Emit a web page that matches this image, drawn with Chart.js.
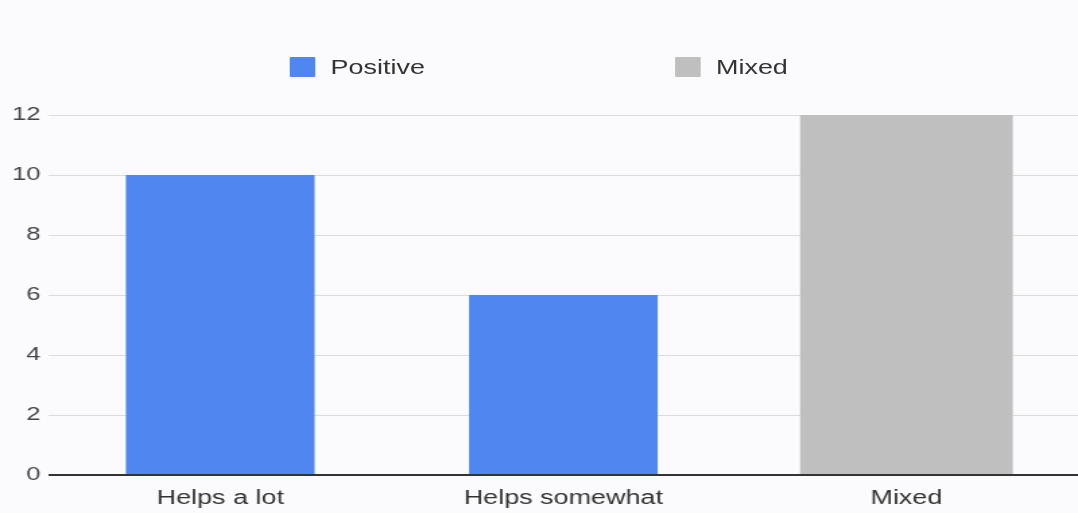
<!DOCTYPE html>
<html>
<head>
<meta charset="utf-8">
<script src="https://cdn.jsdelivr.net/npm/chart.js@4/dist/chart.umd.min.js"></script>
<style>
  html, body { margin: 0; padding: 0; background: #fbfbfd; overflow: hidden; height: 513px; }
  /* the chart is laid out at 800px and widened to fill the 1078px window */
  #wrap {
    position: relative;
    width: 800px;
    height: 521px;
    transform: scaleX(1.3475);
    transform-origin: 0 0;
  }
  #legend {
    position: absolute;
    top: 57px;
    left: 0;
    width: 800px;
    display: flex;
    justify-content: center;
    gap: 186px;
    font: 20px "Liberation Sans", Arial, sans-serif;
    color: #333;
  }
  .item { display: flex; align-items: center; height: 20px; }
  .swatch { width: 19px; height: 20px; margin-right: 11px; border-radius: 1px; }
</style>
</head>
<body>
<div id="wrap">
  <div id="legend"></div>
  <canvas id="chart"></canvas>
</div>
<script>
const categories = ["Helps a lot", "Helps somewhat", "Mixed"];
const positiveValues = [10, 6, null];
const mixedValues = [null, null, 12];
const seriesNames = ["Positive", "Mixed"];
const seriesColors = ["#4f86ef", "#bfbfbf"];

// legend drawn as html so the two entries can sit far apart
const legendEl = document.getElementById("legend");
seriesNames.forEach((name, i) => {
  const item = document.createElement("div");
  item.className = "item";
  const sw = document.createElement("span");
  sw.className = "swatch";
  sw.style.background = seriesColors[i];
  const label = document.createElement("span");
  label.textContent = name;
  item.appendChild(sw);
  item.appendChild(label);
  legendEl.appendChild(item);
});

const font = { family: '"Liberation Sans", Arial, sans-serif' };

new Chart(document.getElementById("chart"), {
  type: "bar",
  data: {
    labels: categories,
    datasets: [
      {
        label: seriesNames[0],
        data: positiveValues,
        backgroundColor: seriesColors[0],
        categoryPercentage: 1,
        barPercentage: 0.55,
      },
      {
        label: seriesNames[1],
        data: mixedValues,
        backgroundColor: seriesColors[1],
        categoryPercentage: 1,
        barPercentage: 0.62,
      },
    ],
  },
  options: {
    responsive: true,
    maintainAspectRatio: false,
    animation: false,
    devicePixelRatio: 1,
    layout: { padding: { top: 115, left: 3, right: 0, bottom: 0 } },
    plugins: {
      legend: { display: false },
      tooltip: { enabled: false },
    },
    scales: {
      x: {
        stacked: true,
        grid: { display: false, drawTicks: false },
        border: { display: false },
        ticks: { color: "#333", padding: 11, font: { ...font, size: 20 } },
      },
      y: {
        stacked: true,
        min: 0,
        max: 12,
        ticks: { stepSize: 2, color: "#444", padding: 6, font: { ...font, size: 19 } },
        border: { display: false },
        grid: {
          drawTicks: false,
          color: ctx => (ctx.tick && ctx.tick.value === 0 ? "#333" : "#dcdcdc"),
          lineWidth: ctx => (ctx.tick && ctx.tick.value === 0 ? 2 : 1),
        },
      },
    },
  },
});
</script>
</body>
</html>
